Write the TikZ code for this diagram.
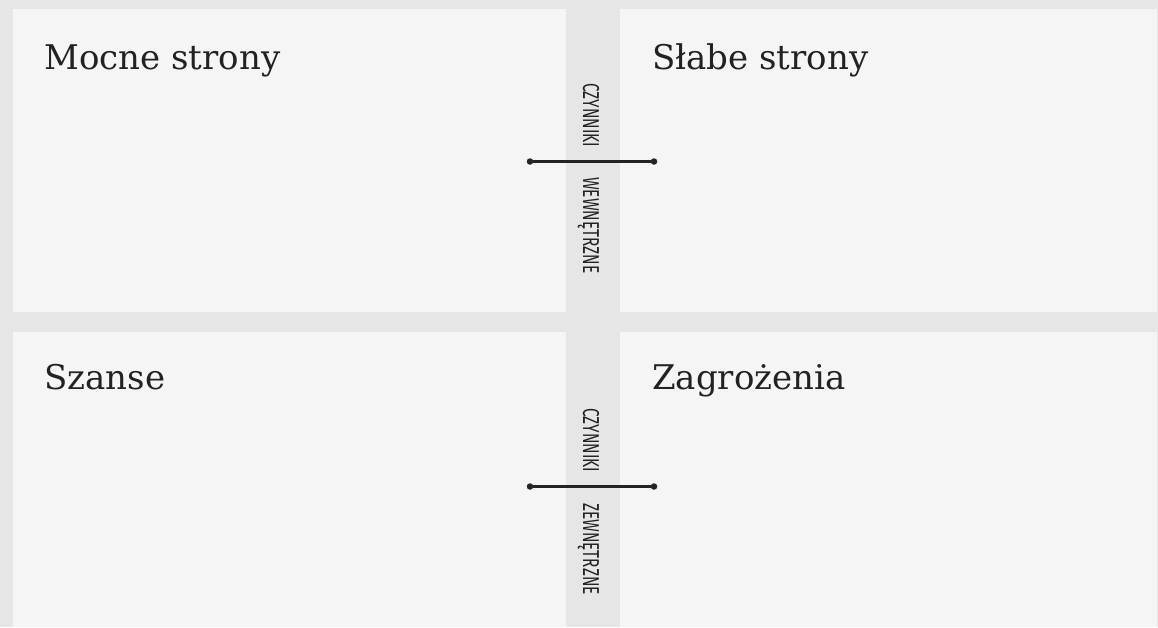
\documentclass[tikz,border=0pt]{standalone}
\usepackage{fontspec}
\setmainfont{DejaVu Serif}
\newfontfamily\condfont[FakeStretch=0.67]{Fira Sans}
\definecolor{pagebg}{HTML}{E6E6E6}
\definecolor{panelbg}{HTML}{F5F5F5}
\definecolor{ink}{HTML}{222222}
\begin{document}
\begin{tikzpicture}[x=1pt,y=-1pt,
  panel/.style={fill=panelbg,draw=none},
  heading/.style={anchor=base west,inner sep=0pt,text=ink,font=\fontsize{34}{40}\selectfont},
  sidelabel/.style={rotate=-90,anchor=base west,inner sep=0pt,text=ink,font=\condfont\fontsize{23}{26}\selectfont},
  dot/.style={circle,fill=ink,inner sep=0pt,minimum size=6.5pt},
  divider/.style={draw=ink,line width=2.3pt}]
  % page and the four quadrants
  \fill[pagebg] (0,0) rectangle (1158,627);
  \useasboundingbox (0,0) rectangle (1158,627);
  \fill[panel] (13,9) rectangle (566,312);
  \fill[panel] (620,9) rectangle (1157,312);
  \fill[panel] (13,332) rectangle (566,627);
  \fill[panel] (620,332) rectangle (1157,627);
  % quadrant headings
  \node[heading] (strengths) at (44,69) {Mocne strony};
  \node[heading] (weaknesses) at (652,69) {Słabe strony};
  \node[heading] (chances) at (44,389) {Szanse};
  \node[heading] (threats) at (652,389) {Zagrożenia};
  % internal factors divider
  \node[sidelabel] (intA) at (583,83) {CZYNNIKI};
  \node[sidelabel] (intB) at (583,177) {WEWNĘTRZNE};
  \node[dot] (intL) at (530,161.5) {};
  \node[dot] (intR) at (654,161.5) {};
  \draw[divider] (intL) -- (intR);
  % external factors divider
  \node[sidelabel] (extA) at (583,408) {CZYNNIKI};
  \node[sidelabel] (extB) at (583,503) {ZEWNĘTRZNE};
  \node[dot] (extL) at (530,486.5) {};
  \node[dot] (extR) at (654,486.5) {};
  \draw[divider] (extL) -- (extR);
\end{tikzpicture}
\end{document}
